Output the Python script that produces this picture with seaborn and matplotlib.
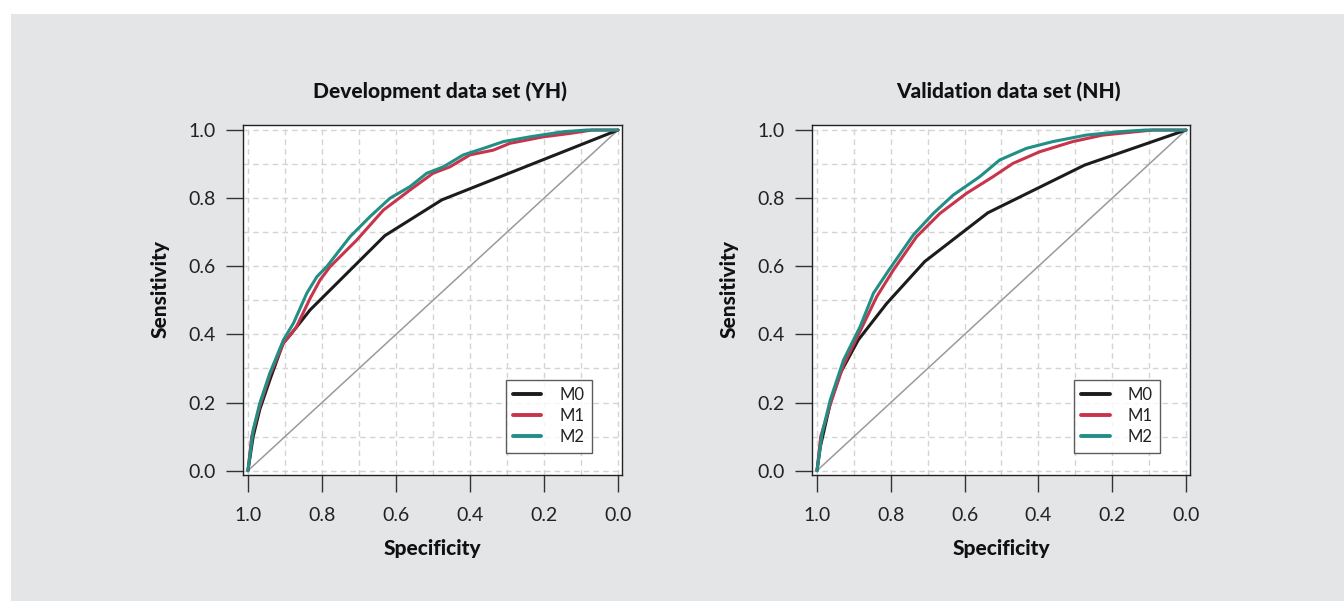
import numpy as np
import pandas as pd
import matplotlib
matplotlib.use('Agg')
import matplotlib.pyplot as plt
import seaborn as sns
from matplotlib.patches import Rectangle
from matplotlib.ticker import MultipleLocator

# ── ROC points (specificity, sensitivity) ──
dev_m0_spec = [1.0, 0.986, 0.968, 0.941, 0.905, 0.886, 0.832, 0.63, 0.476, 0.0]
dev_m0_sens = [0.0, 0.10, 0.18, 0.266, 0.374, 0.398, 0.472, 0.69, 0.795, 1.0]
dev_m1_spec = [1.0, 0.99, 0.968, 0.941, 0.904, 0.870, 0.832, 0.805, 0.778, 0.706, 0.634,
               0.562, 0.50, 0.454, 0.40, 0.337, 0.292, 0.202, 0.13, 0.07, 0.0]
dev_m1_sens = [0.0, 0.10, 0.19, 0.28, 0.375, 0.42, 0.506, 0.56, 0.599, 0.677, 0.765,
               0.824, 0.873, 0.892, 0.927, 0.941, 0.961, 0.98, 0.99, 1.0, 1.0]
dev_m2_spec = [1.0, 0.986, 0.968, 0.941, 0.904, 0.877, 0.841, 0.814, 0.787, 0.724, 0.670,
               0.616, 0.562, 0.517, 0.472, 0.418, 0.364, 0.310, 0.238, 0.148, 0.085, 0.0]
dev_m2_sens = [0.0, 0.119, 0.198, 0.286, 0.384, 0.433, 0.521, 0.569, 0.599, 0.687, 0.746,
               0.800, 0.834, 0.873, 0.892, 0.927, 0.946, 0.966, 0.980, 0.995, 1.0, 1.0]

val_m0_spec = [1.0, 0.991, 0.964, 0.937, 0.888, 0.811, 0.708, 0.537, 0.275, 0.0]
val_m0_sens = [0.0, 0.07, 0.198, 0.286, 0.384, 0.491, 0.614, 0.757, 0.897, 1.0]
val_m1_spec = [1.0, 0.99, 0.964, 0.928, 0.883, 0.838, 0.793, 0.730, 0.667, 0.595, 0.523,
               0.469, 0.397, 0.307, 0.226, 0.136, 0.09, 0.0]
val_m1_sens = [0.0, 0.10, 0.195, 0.31, 0.41, 0.511, 0.589, 0.687, 0.755, 0.814, 0.863,
               0.902, 0.936, 0.966, 0.985, 0.995, 1.0, 1.0]
val_m2_spec = [1.0, 0.986, 0.964, 0.928, 0.883, 0.847, 0.802, 0.739, 0.685, 0.631, 0.559,
               0.505, 0.433, 0.361, 0.271, 0.181, 0.11, 0.0]
val_m2_sens = [0.0, 0.110, 0.208, 0.325, 0.423, 0.521, 0.594, 0.692, 0.755, 0.809, 0.863,
               0.912, 0.946, 0.966, 0.985, 0.995, 1.0, 1.0]

models = ['M0', 'M1', 'M2']
titles = ['Development data set (YH)', 'Validation data set (NH)']
palette = {'M0': '#1c1c1c', 'M1': '#c8344b', 'M2': '#218f86'}


def long_frame(specs, senss):
    parts = []
    for m, sp, se in zip(models, specs, senss):
        parts.append(pd.DataFrame({'Specificity': sp, 'Sensitivity': se, 'Model': m}))
    return pd.concat(parts, ignore_index=True)


panels = [
    long_frame([dev_m0_spec, dev_m1_spec, dev_m2_spec], [dev_m0_sens, dev_m1_sens, dev_m2_sens]),
    long_frame([val_m0_spec, val_m1_spec, val_m2_spec], [val_m0_sens, val_m1_sens, val_m2_sens]),
]

# ── Figure ─────────────────────────────────────────────
sns.set_style('white')
plt.rcParams['font.family'] = ['Lato', 'DejaVu Sans']

fig = plt.figure(figsize=(13.44, 6.01), dpi=100, facecolor='white')
fig.patches.append(Rectangle((11 / 1344, 0), 1, 1 - 14 / 601, transform=fig.transFigure,
                             facecolor='#e4e5e7', edgecolor='none', zorder=-10))

positions = [[0.1810, 0.2097, 0.2818, 0.5824], [0.6044, 0.2097, 0.2810, 0.5824]]

for pos, df, title in zip(positions, panels, titles):
    ax = fig.add_axes(pos)
    ax.set_facecolor('white')
    ax.set_xlim(1.0127, -0.0108)
    ax.set_ylim(-0.0126, 1.0149)
    ax.xaxis.set_major_locator(MultipleLocator(0.2))
    ax.yaxis.set_major_locator(MultipleLocator(0.2))
    ax.xaxis.set_minor_locator(MultipleLocator(0.1))
    ax.yaxis.set_minor_locator(MultipleLocator(0.1))
    ax.grid(which='both', color='#d4d4d4', linestyle=(0, (4, 3)), linewidth=1.0)
    ax.set_axisbelow(True)

    ax.plot([1, 0], [0, 1], color='#9a9a9a', lw=1.1, zorder=1)
    sns.lineplot(data=df, x='Specificity', y='Sensitivity', hue='Model', palette=palette,
                 sort=False, estimator=None, lw=2.2, ax=ax, zorder=3)

    for s in ax.spines.values():
        s.set_visible(True)
        s.set_color('#222222')
        s.set_linewidth(1.0)

    ax.tick_params(which='major', direction='out', length=12, width=1.0, color='#333333',
                   labelsize=14, labelcolor='#222222', pad=8, left=True, bottom=True)
    ax.tick_params(axis='x', which='major', pad=11)
    ax.tick_params(which='minor', length=0)
    ax.set_xticks([1.0, 0.8, 0.6, 0.4, 0.2, 0.0])
    ax.set_xticklabels(['1.0', '0.8', '0.6', '0.4', '0.2', '0.0'])
    ax.set_yticks([0.0, 0.2, 0.4, 0.6, 0.8, 1.0])
    ax.set_yticklabels(['0.0', '0.2', '0.4', '0.6', '0.8', '1.0'])

    ax.set_xlabel('Specificity', fontsize=15, fontweight='black', color='#111111')
    ax.set_ylabel('Sensitivity', fontsize=15, fontweight='black', color='#111111')
    ax.xaxis.set_label_coords(0.5, -0.211)
    ax.yaxis.set_label_coords(-0.22, 0.53)
    ax.xaxis.label.set_va('center')
    ax.yaxis.label.set_va('center')

    ax.set_title(title, fontsize=15, fontweight='black', color='#111111', x=0.52, pad=20)

    leg = ax.legend(loc='lower right', bbox_to_anchor=(0.9216, 0.064), fontsize=12,
                    frameon=True, fancybox=False, handlelength=1.7, handletextpad=1.1,
                    borderpad=0.45, labelspacing=0.3, borderaxespad=0)
    leg.get_frame().set_edgecolor('#333333')
    leg.get_frame().set_linewidth(1.0)
    for line in leg.get_lines():
        line.set_linewidth(2.8)
    for t in leg.get_texts():
        t.set_color('#222222')

fig.savefig('out.png', dpi=100, facecolor=fig.get_facecolor())
